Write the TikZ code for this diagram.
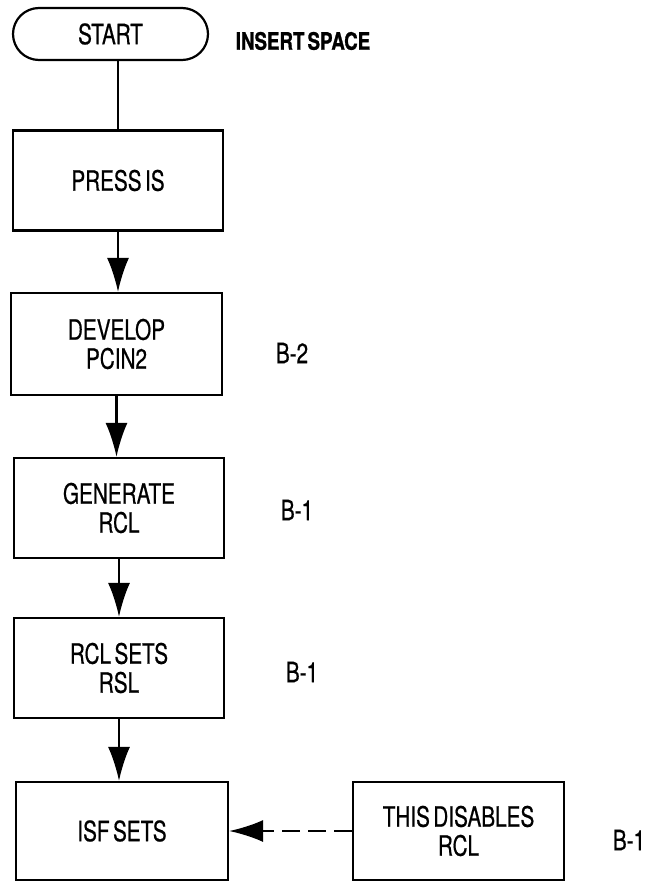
\documentclass[tikz,border=0pt]{standalone}
\usepackage{fontspec}
\setmainfont{TeX Gyre Heros}[FakeStretch=0.74, WordSpace=0.6, FakeBold=0.6]
\newfontfamily\headfont{TeX Gyre Heros}[FakeStretch=0.78, WordSpace=0.6, FakeBold=1]
\usetikzlibrary{arrows.meta}

\begin{document}
\begin{tikzpicture}[x=1pt, y=-1pt, line width=2.2pt,
	every node/.style={font=\fontsize{28}{29}\selectfont, align=center},
	stepbox/.style={draw, minimum width=210pt, minimum height=100pt, inner sep=0pt},
	>={Latex[length=34pt, width=22pt]}]
	\useasboundingbox (0,0) rectangle (657,883);
	\node[draw, rounded corners=26pt, minimum width=195pt, minimum height=52pt] (start) at (110.5,34) {START};
	\node[font=\headfont\fontsize{24}{27}\selectfont\bfseries] (insert) at (303,41) {INSERT SPACE};
	\node[stepbox] (press) at (118,180.5) {PRESS IS};
	\node[stepbox, minimum width=211pt, minimum height=102pt] (develop) at (116.5,344) {DEVELOP\\PCIN2};
	\node[stepbox] (generate) at (119,508) {GENERATE\\RCL};
	\node[stepbox] (rclsets) at (119,668) {RCL SETS\\RSL};
	\node[stepbox, minimum width=212pt, minimum height=98pt] (isf) at (122,831) {ISF SETS};
	\node[stepbox, minimum width=211pt, minimum height=98pt] (disable) at (458.5,831) {THIS DISABLES\\RCL};
	\node (refdev) at (292,353) {B-2};
	\node (refgen) at (297,510) {B-1};
	\node (refrcl) at (302,672) {B-1};
	\node (refdis) at (629,840) {B-1};
	\draw (press.north |- start.south) -- (press.north);
	\draw[->] (press.south) -- (press.south |- develop.north);
	\draw[->] (develop.south) -- (develop.south |- generate.north);
	\draw[->] (generate.south) -- (generate.south |- rclsets.north);
	\draw[->] (rclsets.south) -- (rclsets.south |- isf.north);
	\draw[->, dash pattern=on 18pt off 8pt] (disable.west) -- (isf.east);
\end{tikzpicture}
\end{document}
